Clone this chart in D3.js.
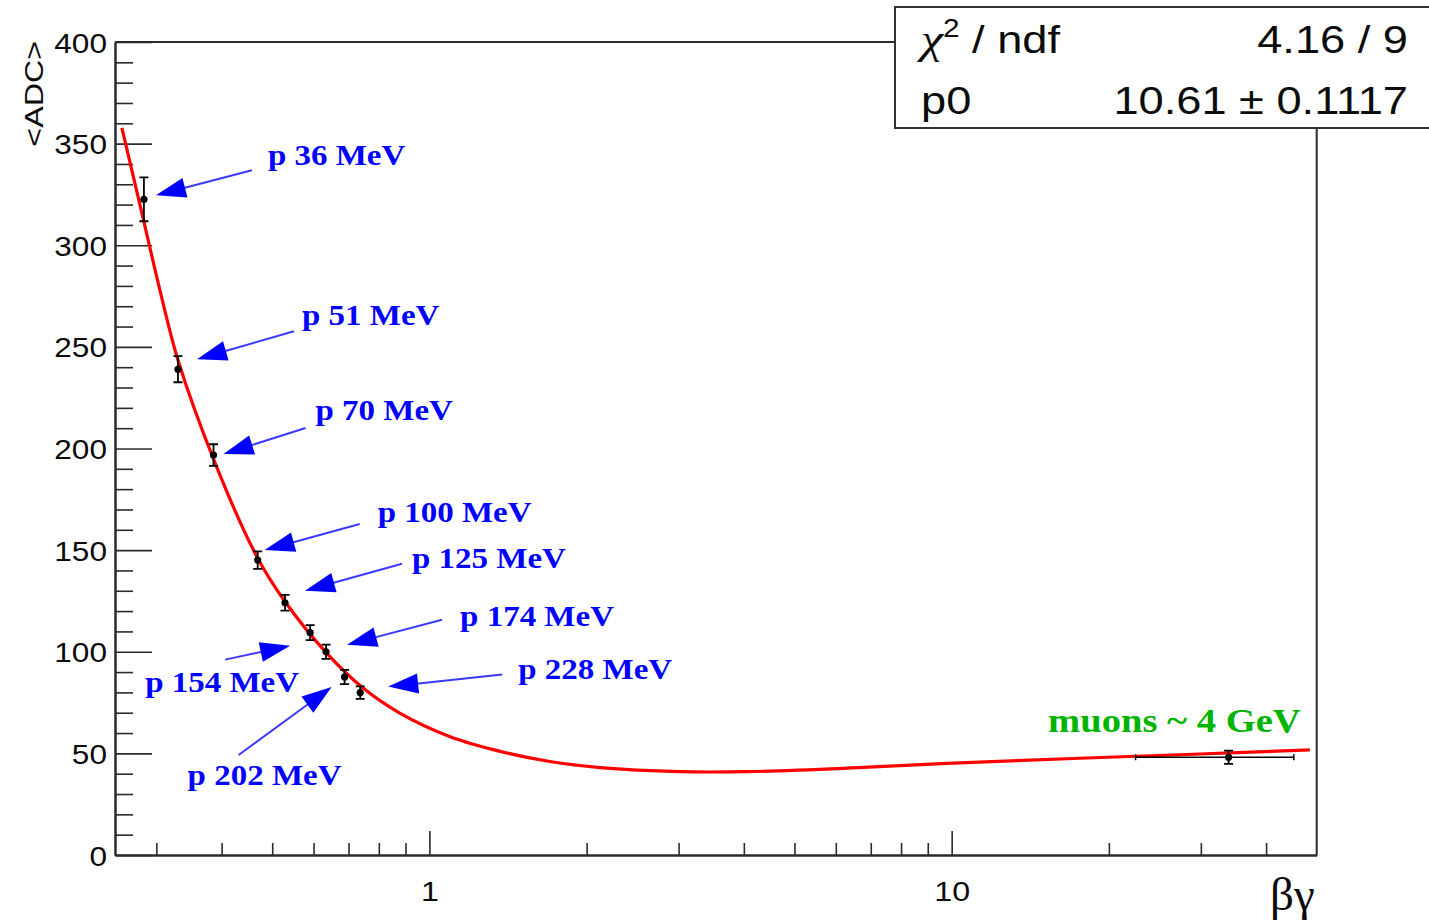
<!DOCTYPE html>
<html>
<head>
<meta charset="utf-8">
<script src="https://cdn.jsdelivr.net/npm/d3@7"></script>
<style>
  body { margin: 0; background: #fff; }
  svg { display: block; }
</style>
</head>
<body>
<svg id="chart" width="1429" height="922"></svg>
<script>
// ---- Measured mean ADC vs beta*gamma (protons at several beam energies + cosmic muons)
const protonLabels    = ["p 36 MeV", "p 51 MeV", "p 70 MeV", "p 100 MeV", "p 125 MeV",
                         "p 154 MeV", "p 174 MeV", "p 202 MeV", "p 228 MeV"];
const protonBetaGamma = [0.284, 0.330, 0.386, 0.469, 0.529, 0.591, 0.634, 0.688, 0.737];
const protonADC       = [322.6, 239.0, 196.8, 145.1, 124.1, 109.4, 100.0, 87.6, 79.9];
const protonADCErr    = [10.8, 6.4, 5.3, 4.3, 3.9, 3.7, 3.5, 3.5, 3.1];

const muonLabel       = "muons ~ 4 GeV";
const muonBetaGamma   = [33.9];
const muonBetaGammaLo = [22.5];
const muonBetaGammaHi = [45.2];
const muonADC         = [48.1];
const muonADCErr      = [3.3];

// ---- Fitted Bethe-Bloch curve, sampled along beta*gamma
const fitBetaGamma = [0.2577, 0.2835, 0.3074, 0.330, 0.3889, 0.4673, 0.5294, 0.6363, 0.7475,
                      0.879, 1.096, 1.366, 1.70, 2.122, 3.019, 4.052, 6.295, 9.781, 17.60, 29.88, 48.5];
const fitADC       = [357.7, 312.4, 273.9, 243.5, 192.7, 146.8, 124.6, 99.2, 82.0,
                      69.7, 58.2, 51.0, 46.0, 43.0, 41.0, 41.0, 42.7, 45.1, 47.6, 49.7, 51.7];

// ---- Fit statistics box
const statNames  = ["χ", "p0"];
const statValues = ["4.16 / 9", "10.61 ± 0.1117"];

// ---- Axes
const xMajorTicks = [1, 10];
const xMinorTicks = [0.3, 0.4, 0.5, 0.6, 0.7, 0.8, 0.9, 2, 3, 4, 5, 6, 7, 8, 9, 20, 30, 40];
const xTickLabels = ["1", "10"];
const yMajorTicks = [0, 50, 100, 150, 200, 250, 300, 350, 400];
const yMinorTicks = [10, 20, 30, 40, 60, 70, 80, 90, 110, 120, 130, 140, 160, 170, 180, 190,
                     210, 220, 230, 240, 260, 270, 280, 290, 310, 320, 330, 340, 360, 370, 380, 390];
const xTitle = "βγ";
const yTitle = "<ADC>";

// ---- Annotation arrows: pixel offsets of tip, tail and label from each proton point
const annotationLayout = [
  { tip: [12, -4],   tail: [108, -29],  text: [124, -34] },
  { tip: [19, -10],  tail: [116, -38],  text: [124, -44] },
  { tip: [10, -1],   tail: [92, -27],   text: [102, -35] },
  { tip: [7, -10],   tail: [102, -36],  text: [120, -38] },
  { tip: [20, -12],  tail: [117, -39],  text: [127, -35] },
  { tip: [-20, 13],  tail: [-85, 27],   text: [-165, 59] },
  { tip: [21, -7],   tail: [116, -32],  text: [134, -26] },
  { tip: [-13, 10],  tail: [-106, 78],  text: [-157, 108] },
  { tip: [28, -6],   tail: [142, -18],  text: [158, -14] }
];

const svg = d3.select("#chart");
const plotL = 115, plotR = 1316.7, plotT = 42, plotB = 855;
const axisColor = "#2b2b2b";
const textColor = "#0c0c0c";
const blue = "#0000ff";

const x = d3.scaleLog().domain([0.25, 50]).range([plotL, plotR]);
const y = d3.scaleLinear().domain([0, 400]).range([plotB, plotT]);

// ---- Frame (top and right edges)
svg.append("path")
  .attr("d", `M${plotL},${plotT}H${plotR}V${plotB}`)
  .attr("fill", "none").attr("stroke", axisColor).attr("stroke-width", 2);

// ---- Y axis
function styleAxis(g) {
  g.select(".domain").attr("stroke", axisColor).attr("stroke-width", 2);
  g.selectAll(".tick line").attr("stroke", axisColor).attr("stroke-width", 1.6);
}
const yMajor = svg.append("g").attr("transform", `translate(${plotL},0)`)
  .call(d3.axisLeft(y).tickValues(yMajorTicks).tickSizeInner(-37).tickSizeOuter(0).tickPadding(0)
        .tickFormat(d => String(d)))
  .call(styleAxis);
yMajor.selectAll(".tick text")
  .attr("x", null).attr("dy", null)
  .attr("transform", "translate(-8,10) scale(1.17,1)")
  .attr("text-anchor", "end")
  .attr("font-family", "'Liberation Sans', Arial, sans-serif")
  .attr("font-size", 27).attr("fill", textColor);
svg.append("g").attr("transform", `translate(${plotL},0)`)
  .call(d3.axisLeft(y).tickValues(yMinorTicks).tickSizeInner(-18).tickSizeOuter(0).tickFormat(""))
  .call(styleAxis);

// ---- X axis (log)
const xMajor = svg.append("g").attr("transform", `translate(0,${plotB})`)
  .call(d3.axisBottom(x).tickValues(xMajorTicks).tickSizeInner(-24).tickSizeOuter(0).tickPadding(0)
        .tickFormat((d, i) => xTickLabels[i]))
  .call(styleAxis);
xMajor.selectAll(".tick text")
  .attr("y", null).attr("dy", null)
  .attr("transform", "translate(0,46) scale(1.15,1)")
  .attr("text-anchor", "middle")
  .attr("font-family", "'Liberation Sans', Arial, sans-serif")
  .attr("font-size", 28).attr("fill", textColor);
svg.append("g").attr("transform", `translate(0,${plotB})`)
  .call(d3.axisBottom(x).tickValues(xMinorTicks).tickSizeInner(-12).tickSizeOuter(0).tickFormat(""))
  .call(styleAxis);

// ---- Axis titles
svg.append("text")
  .attr("transform", `translate(${plotR - 2},${plotB + 55})`)
  .attr("text-anchor", "end")
  .attr("font-family", "'Liberation Serif', 'Times New Roman', serif")
  .attr("font-size", 47).attr("fill", textColor)
  .text(xTitle);
svg.append("text")
  .attr("transform", `translate(43,${plotT - 1}) rotate(-90) scale(1.24,1)`)
  .attr("text-anchor", "end")
  .attr("font-family", "'Liberation Sans', Arial, sans-serif")
  .attr("font-size", 26).attr("fill", textColor)
  .text(yTitle);

// ---- Fit curve
const fitData = fitBetaGamma.map((b, i) => [b, fitADC[i]]);
svg.append("path")
  .datum(fitData)
  .attr("d", d3.line().x(d => x(d[0])).y(d => y(d[1])).curve(d3.curveCatmullRom.alpha(0.5)))
  .attr("fill", "none").attr("stroke", "#ff0000").attr("stroke-width", 3.2);

// ---- Data points with error bars
const points = protonBetaGamma.map((b, i) => ({ bg: b, adc: protonADC[i], err: protonADCErr[i] }));
const muons = muonBetaGamma.map((b, i) => ({
  bg: b, adc: muonADC[i], err: muonADCErr[i], lo: muonBetaGammaLo[i], hi: muonBetaGammaHi[i]
}));
const cap = 4.5;
const pts = svg.append("g").attr("stroke", "#000").attr("stroke-width", 1.8);
[...points, ...muons].forEach(p => {
  const cx = x(p.bg), cy = y(p.adc), y1 = y(p.adc + p.err), y2 = y(p.adc - p.err);
  pts.append("path")
    .attr("d", `M${cx},${y1}V${y2}M${cx - cap},${y1}H${cx + cap}M${cx - cap},${y2}H${cx + cap}`)
    .attr("fill", "none");
  if (p.lo !== undefined) {
    const xl = x(p.lo), xh = x(p.hi);
    pts.append("path")
      .attr("d", `M${xl},${cy}H${xh}M${xl},${cy - 3}V${cy + 3}M${xh},${cy - 3}V${cy + 3}`)
      .attr("fill", "none").attr("stroke-width", 1.5);
  }
  pts.append("circle").attr("cx", cx).attr("cy", cy).attr("r", 3.6)
    .attr("fill", "#000").attr("stroke", "none");
});

// ---- Annotation arrows and labels
const ann = svg.append("g");
points.forEach((p, i) => {
  const L = annotationLayout[i];
  const px = x(p.bg), py = y(p.adc);
  const tip = [px + L.tip[0], py + L.tip[1]];
  const tail = [px + L.tail[0], py + L.tail[1]];
  const dx = tip[0] - tail[0], dy = tip[1] - tail[1];
  const len = Math.hypot(dx, dy), ux = dx / len, uy = dy / len;
  const headLen = 30, headHalf = 10;
  const base = [tip[0] - ux * headLen, tip[1] - uy * headLen];
  ann.append("line")
    .attr("x1", tail[0]).attr("y1", tail[1]).attr("x2", base[0] + ux * 4).attr("y2", base[1] + uy * 4)
    .attr("stroke", "#3a3aff").attr("stroke-width", 2);
  ann.append("path")
    .attr("d", `M${tip[0]},${tip[1]}L${base[0] - uy * headHalf},${base[1] + ux * headHalf}` +
               `L${base[0] + uy * headHalf},${base[1] - ux * headHalf}Z`)
    .attr("fill", blue);
  ann.append("text")
    .attr("transform", `translate(${px + L.text[0]},${py + L.text[1]}) scale(1.1,1)`)
    .attr("font-family", "'Liberation Serif', 'Times New Roman', serif")
    .attr("font-weight", "bold").attr("font-size", 30).attr("fill", blue)
    .text(protonLabels[i]);
});

// Muon label
svg.append("text")
  .attr("transform", `translate(${plotR - 16},${y(muonADC[0]) - 25}) scale(1.135,1)`)
  .attr("text-anchor", "end")
  .attr("font-family", "'Liberation Serif', 'Times New Roman', serif")
  .attr("font-weight", "bold").attr("font-size", 34).attr("fill", "#00b400")
  .text(muonLabel);

// ---- Fit statistics box
const box = svg.append("g");
box.append("rect")
  .attr("x", 895).attr("y", 7).attr("width", 560).attr("height", 121)
  .attr("fill", "#fff").attr("stroke", "#333").attr("stroke-width", 2);
const statFont = "'Liberation Sans', Arial, sans-serif";
const row1 = box.append("text")
  .attr("transform", "translate(921,53) scale(1.19,1)")
  .attr("font-family", statFont).attr("font-size", 38).attr("fill", textColor);
row1.append("tspan").attr("font-family", "'Liberation Serif', serif").attr("font-style", "italic")
  .attr("font-size", 42).text(statNames[0]);
row1.append("tspan").attr("font-size", 25).attr("dy", -16).text("2");
row1.append("tspan").attr("dy", 16).text(" / ndf");
box.append("text")
  .attr("transform", "translate(921,114) scale(1.19,1)")
  .attr("font-family", statFont).attr("font-size", 38).attr("fill", textColor)
  .text(statNames[1]);
statValues.forEach((v, i) => {
  box.append("text")
    .attr("transform", `translate(1408,${i === 0 ? 53 : 114}) scale(1.19,1)`)
    .attr("text-anchor", "end")
    .attr("font-family", statFont).attr("font-size", 38).attr("fill", textColor)
    .text(v);
});
</script>
</body>
</html>
